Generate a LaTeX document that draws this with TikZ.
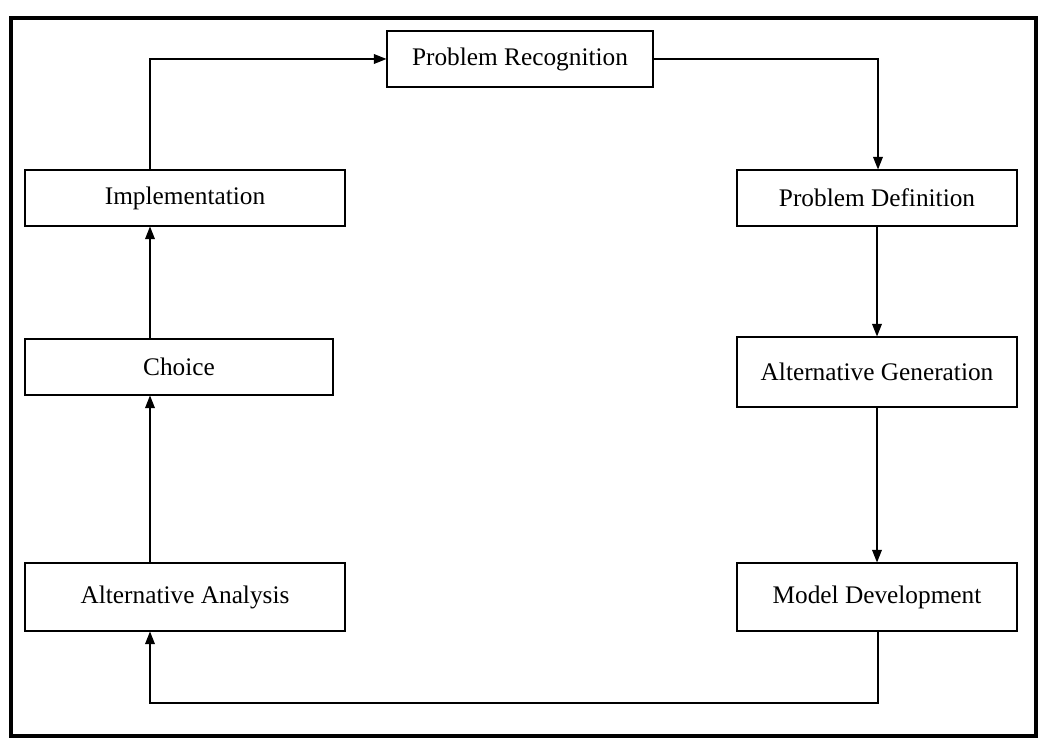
\documentclass[tikz,border=0pt]{standalone}
\usepackage{fontspec}
\setmainfont{Liberation Serif}
\usetikzlibrary{arrows.meta}
\tikzset{stage/.style={draw, thick, minimum height=1.4cm, inner sep=2pt, font=\fontsize{18}{22}\selectfont}}
\begin{document}
\begin{tikzpicture}[x=0.025cm,y=-0.025cm]
\useasboundingbox (0,0) rectangle (1047,747);
\draw[line width=2.5pt] (11,18) rectangle (1036,736);

\node[stage, minimum width=6.65cm, minimum height=1.4cm] (recog) at (520,59) {Problem Recognition};
\node[stage, minimum width=8cm] (impl) at (185,198) {Implementation};
\node[stage, minimum width=7.7cm] (choice) at (179,367) {Choice};
\node[stage, minimum width=8cm, minimum height=1.7cm] (anal) at (185,597) {Alternative Analysis};
\node[stage, minimum width=7cm] (defn) at (877,198) {Problem Definition};
\node[stage, minimum width=7cm, minimum height=1.75cm] (gen) at (877,372) {Alternative Generation};
\node[stage, minimum width=7cm, minimum height=1.7cm] (model) at (877,597) {Model Development};

\coordinate (topl) at (150,59);
\coordinate (topr) at (878,59);
\coordinate (botr) at (878,703);
\coordinate (botl) at (150,703);

\path[draw,thick,-{Triangle[length=9pt,width=7pt]}] (impl.north -| topl) -- (topl) -- (recog);
\path[draw,thick,-{Triangle[length=9pt,width=7pt]}] (recog) -- (topr) -- (defn.north -| topr);
\path[draw,thick,-{Triangle[length=9pt,width=7pt]}] (defn) -- (gen);
\path[draw,thick,-{Triangle[length=9pt,width=7pt]}] (gen) -- (model);
\path[draw,thick,-{Triangle[length=9pt,width=7pt]}] (model.south -| botr) -- (botr) -- (botl) -- (anal.south -| botl);
\path[draw,thick,-{Triangle[length=9pt,width=7pt]}] (anal.north -| topl) -- (choice.south -| topl);
\path[draw,thick,-{Triangle[length=9pt,width=7pt]}] (choice.north -| topl) -- (impl.south -| topl);
\end{tikzpicture}
\end{document}
